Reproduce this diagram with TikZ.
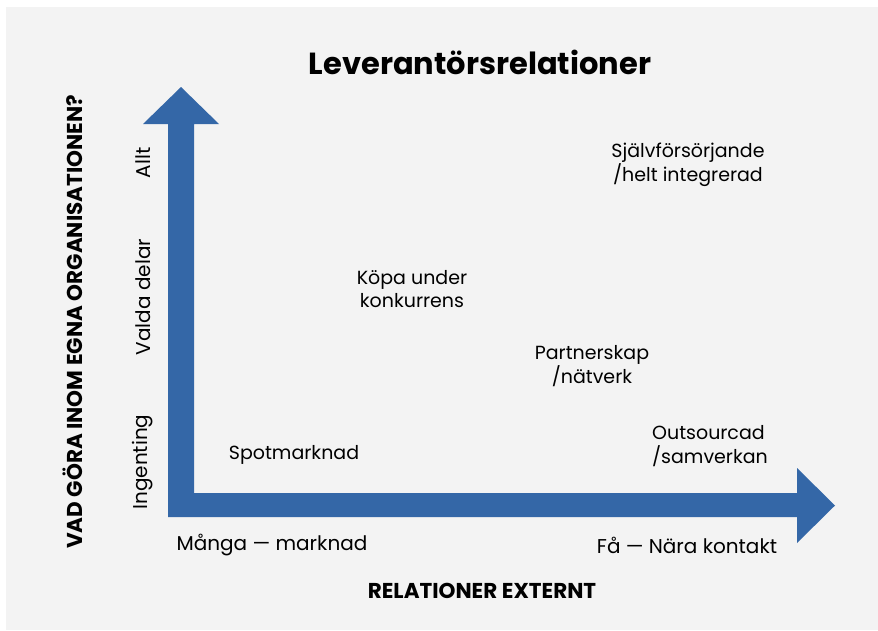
\documentclass[tikz,border=0pt]{standalone}
\usepackage{fontspec}
\setmainfont{Poppins}
\usetikzlibrary{positioning}
\definecolor{axisblue}{HTML}{3467A7}
\definecolor{panelgrey}{HTML}{F3F3F3}
\tikzstyle{title-node}=[font=\bfseries\fontsize{30.5}{36}\selectfont,inner sep=0pt]
\tikzstyle{axis-title}=[font=\bfseries\fontsize{21.5}{24}\selectfont,inner sep=0pt]
\tikzstyle{level-node}=[font=\fontsize{20}{24}\selectfont,inner sep=0pt,rotate=90]
\tikzstyle{end-node}=[font=\fontsize{20}{24}\selectfont,inner sep=0pt]
\tikzstyle{type-node}=[font=\fontsize{19}{23.5}\selectfont,align=center,inner sep=0pt]
\tikzstyle{blue-arrow}=[fill=axisblue,draw=none]

\begin{document}
\begin{tikzpicture}[x=1pt,y=-1pt]
	\useasboundingbox (0,0) rectangle (878,630);
	\fill[panelgrey] (6,7) rectangle (878,630);

	\begin{scope}
	\coordinate (corner) at (168,517);
	\coordinate (ytip) at (181,87);
	\coordinate (xtip) at (835,505.5);
	\path[blue-arrow] (corner) -- (168,124) -- (143,124) -- (ytip) -- (219,124)
		-- (194,124) -- (194,493) -- (797,493) -- (797,468) -- (xtip)
		-- (797,543) -- (797,517) -- cycle;
	\end{scope}

	\begin{scope}
	\node (title)[title-node] at (480,62) {Leverantörsrelationer};
	\node (xtitle)[axis-title] at (482,591) {RELATIONER EXTERNT};
	\node (ytitle)[axis-title,rotate=90] at (73,322) {VAD GÖRA INOM EGNA ORGANISATIONEN?};

	\node (allt)[level-node] at (143,163) {Allt};
	\node (valda)[level-node] at (143,297) {Valda delar};
	\node (ingenting)[level-node] at (143,462) {Ingenting};

	\node (manga)[end-node] at (272,545) {Många — marknad};
	\node (fa)[end-node] at (687,545) {Få — Nära kontakt};

	\node (spot)[type-node] at (294,455) {Spotmarknad};
	\node (kopa)[type-node] at (412,289) {Köpa under\\konkurrens};
	\node (partner)[type-node] at (592,366) {Partnerskap\\/nätverk};
	\node (outsource)[type-node,align=left] at (710,446) {Outsourcad\\/samverkan};
	\node (sjalv)[type-node] at (688,165) {Självförsörjande\\/helt integrerad};
	\end{scope}
\end{tikzpicture}
\end{document}
